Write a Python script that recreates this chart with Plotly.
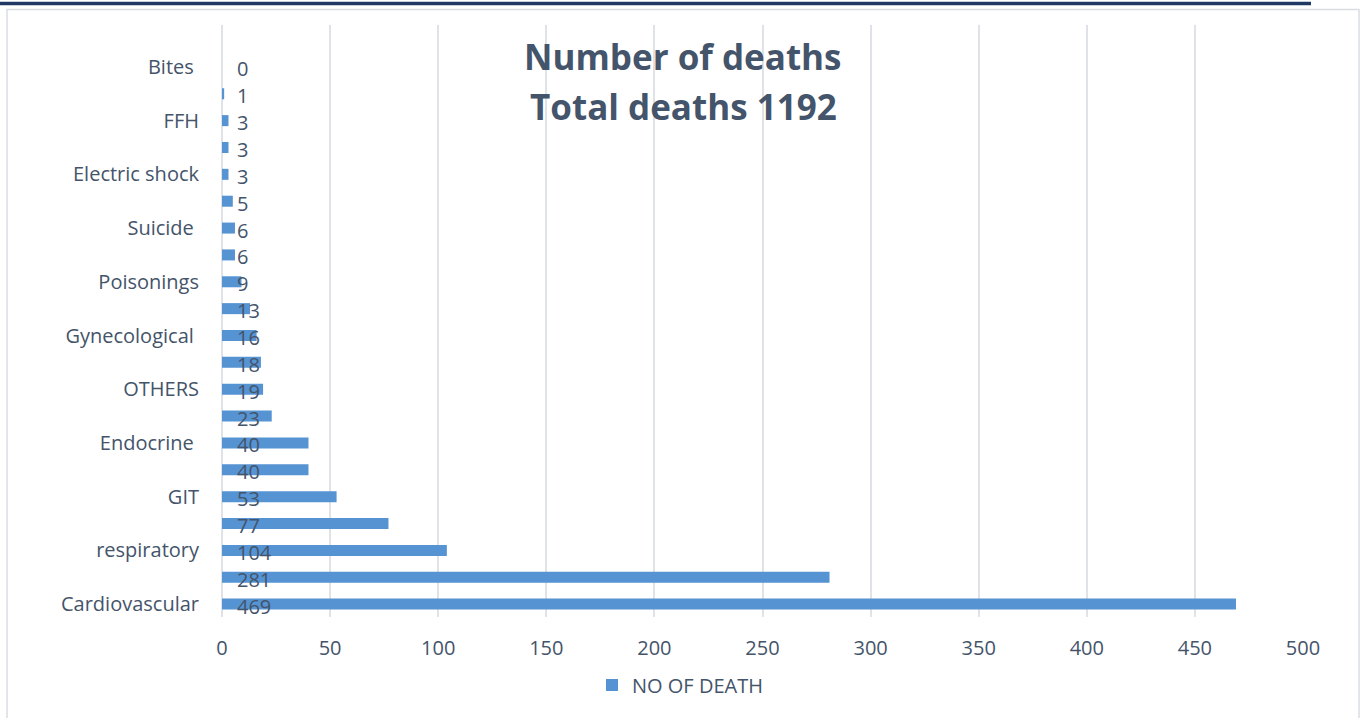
import plotly.graph_objects as go

# Causes of death, listed from the bottom of the chart upwards.
# Only every other cause carries a visible axis label.
causes = [
    "Cardiovascular", None, "respiratory", None, "GIT", None,
    "Endocrine\u00a0", None, "OTHERS", None, "Gynecological\u00a0", None,
    "Poisonings", None, "Suicide\u00a0", None, "Electric shock", None,
    "FFH", None, "Bites\u00a0",
]
deaths = [469, 281, 104, 77, 53, 40, 40, 23, 19, 18, 16, 13, 9, 6, 6, 5, 3, 3, 3, 1, 0]
series_name = "NO OF DEATH"
title_lines = ["Number of deaths", "Total deaths 1192"]
x_ticks = [0, 50, 100, 150, 200, 250, 300, 350, 400, 450, 500]

positions = list(range(len(deaths)))
tick_vals = [p for p, c in zip(positions, causes) if c is not None]
tick_text = [c for c in causes if c is not None]

TEXT = "#44546A"
GRID = "#DFE3E8"
BAR = "#5593D3"
FONT = "Open Sans"

fig = go.Figure()
fig.add_trace(go.Bar(
    x=deaths,
    y=positions,
    orientation="h",
    name=series_name,
    width=0.41,
    marker=dict(color=BAR, line=dict(width=0)),
    showlegend=True,
))

# Value labels sit just to the right of the axis, at each bar's base.
for p, v in zip(positions, deaths):
    fig.add_annotation(
        x=0, y=p, xref="x", yref="y",
        text=str(v), showarrow=False,
        xanchor="left", yanchor="middle",
        xshift=13, yshift=-2,
        font=dict(family=FONT, size=20, color=TEXT),
    )

W, H = 1364, 718
L, R, T, B = 222, 61, 25, 101
pw, ph = W - L - R, H - T - B

def px_x(px):
    return (px - L) / pw

def px_y(py):
    return (H - B - py) / ph

# Two-line chart title.
for line, ty in zip(title_lines, [56, 107]):
    fig.add_annotation(
        x=px_x(683), y=px_y(ty), xref="paper", yref="paper",
        text=f"<b>{line}</b>", showarrow=False,
        xanchor="center", yanchor="middle",
        font=dict(family=FONT, size=35, color=TEXT),
    )

# Outer chart frame and the dark rule along the top.
fig.add_shape(type="rect", xref="paper", yref="paper",
              x0=px_x(7), x1=px_x(1359), y0=px_y(730), y1=px_y(9.5),
              line=dict(color="#D9DDE2", width=1.5), fillcolor="rgba(0,0,0,0)", layer="below")
fig.add_shape(type="line", xref="paper", yref="paper",
              x0=px_x(0), x1=px_x(1311), y0=px_y(3.5), y1=px_y(3.5),
              line=dict(color="#1F3864", width=3.5))

fig.update_layout(
    width=W, height=H,
    margin=dict(l=L, r=R, t=T, b=B, pad=0, autoexpand=False),
    paper_bgcolor="white",
    plot_bgcolor="white",
    font=dict(family=FONT, size=20, color=TEXT),
    xaxis=dict(
        range=[0, 500],
        tickvals=x_ticks,
        showgrid=True, gridcolor=GRID, gridwidth=2,
        zeroline=True, zerolinecolor=GRID, zerolinewidth=2,
        showline=False, ticks="",
        tickfont=dict(family=FONT, size=20, color=TEXT),
        ticklabelstandoff=17,
        automargin=False,
        fixedrange=True,
    ),
    yaxis=dict(
        range=[-0.48, 21.56],
        tickvals=tick_vals,
        ticktext=tick_text,
        showgrid=False, zeroline=False, showline=False, ticks="",
        tickfont=dict(family=FONT, size=20, color=TEXT),
        ticklabelstandoff=22,
        automargin=False,
        fixedrange=True,
    ),
    legend=dict(
        orientation="h",
        x=680 / W, xref="container", xanchor="center",
        y=1 - 685 / H, yref="container", yanchor="middle",
        font=dict(family=FONT, size=20, color=TEXT),
        itemwidth=30,
    ),
    bargap=0.5,
)

fig.write_html("out.html")
